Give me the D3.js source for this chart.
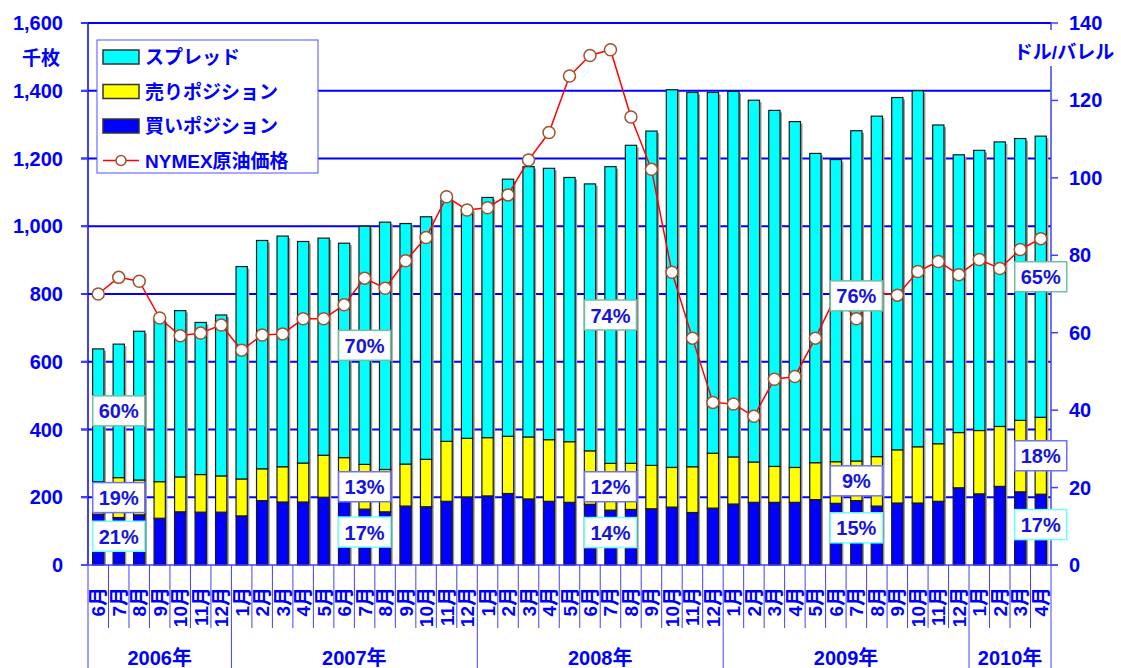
<!DOCTYPE html>
<html>
<head>
<meta charset="utf-8">
<script src="https://cdn.jsdelivr.net/npm/d3@7"></script>
<style>
  body { margin: 0; background: #fff; }
  text { font-family: "Liberation Sans", Arial, "Noto Sans CJK JP", sans-serif; font-weight: bold; fill: #0000ff; }
</style>
</head>
<body>
<div id="chart"></div>
<script>
// months shown on the axis
var months = ["6月","7月","8月","9月","10月","11月","12月",
  "1月","2月","3月","4月","5月","6月","7月","8月","9月","10月","11月","12月",
  "1月","2月","3月","4月","5月","6月","7月","8月","9月","10月","11月","12月",
  "1月","2月","3月","4月","5月","6月","7月","8月","9月","10月","11月","12月",
  "1月","2月","3月","4月"];
var years = ["2006年","2007年","2008年","2009年","2010年"];
var yearCounts = [7, 12, 12, 12, 4];

// positions (千枚)
var buy = [150,140,148,138,157,156,156, 145,190,186,186,200,190,165,157,174,172,188,201,
  204,211,195,188,185,179,162,164,166,171,155,168, 180,185,185,185,193,182,190,174,183,183,188,228,
  210,232,216,209];
var sell = [96,118,103,108,103,111,107, 109,94,104,115,124,127,132,125,124,140,177,173,
  172,169,183,182,179,158,138,136,128,117,135,162, 139,119,106,103,109,123,117,146,157,166,170,163,
  187,177,211,227];
var spread = [392,394,439,477,491,449,475, 627,674,681,654,641,633,703,730,710,716,712,676,
  709,759,798,801,780,788,876,939,987,1115,1105,1065, 1079,1068,1051,1021,913,892,975,1005,1040,1051,941,820,
  827,840,832,830];

// NYMEX crude (ドル/バレル)
var price = [70.0,74.3,73.3,63.8,59.2,59.9,62.0, 55.5,59.4,59.7,63.6,63.6,67.2,74.1,71.5,78.6,84.6,95.1,91.7,
  92.3,95.6,104.6,111.7,126.3,131.6,133.1,115.7,102.2,75.6,58.6,42.0, 41.6,38.4,48.0,48.7,58.6,69.5,63.6,70.4,69.7,75.8,78.4,75.0,
  78.9,76.6,81.5,84.3];

// share labels
var labelIdx = [1, 13, 25, 37, 46];
var pctSpread = ["60%","70%","74%","76%","65%"];
var pctSell = ["19%","13%","12%","9%","18%"];
var pctBuy = ["21%","17%","14%","15%","17%"];

var leftTicks = [0,200,400,600,800,1000,1200,1400,1600];
var rightTicks = [0,20,40,60,80,100,120,140];

(function(){
var W = 1121, H = 668;
var pl = 88, pr = 1051, pt = 23, pb = 565;
var blue = "#0000ff", axisBlue = "#4040ff";

var svg = d3.select("#chart").append("svg")
  .attr("width", W).attr("height", H);

var x = d3.scaleBand().domain(d3.range(months.length))
  .range([pl, pr]).paddingInner(0.45).paddingOuter(0.225);
var y = d3.scaleLinear().domain([0, 1600]).range([pb, pt]);
var y2 = d3.scaleLinear().domain([0, 140]).range([pb, pt]);

var rows = months.map(function(m, i){ return {i:i, buy:buy[i], sell:sell[i], spread:spread[i]}; });
var keys = ["buy","sell","spread"];
var colors = {buy:"#0000ff", sell:"#ffff00", spread:"#00ffff"};
var stacked = d3.stack().keys(keys)(rows);

// gridlines
svg.append("g").selectAll("line")
  .data(leftTicks.filter(function(d){ return d > 0; }))
  .enter().append("line")
  .attr("x1", pl - 7).attr("x2", pr)
  .attr("y1", function(d){ return y(d); }).attr("y2", function(d){ return y(d); })
  .attr("stroke", blue).attr("stroke-width", 2);

// shadows
svg.append("g").selectAll("rect")
  .data(rows).enter().append("rect")
  .attr("x", function(d){ return x(d.i) + 2; })
  .attr("y", function(d){ return y(d.buy + d.sell + d.spread) + 2; })
  .attr("width", x.bandwidth())
  .attr("height", function(d){ return pb - y(d.buy + d.sell + d.spread) - 2; })
  .attr("fill", "#9a9a9a");

// stacked bars
svg.append("g").selectAll("g")
  .data(stacked).enter().append("g")
  .attr("fill", function(s){ return colors[s.key]; })
  .selectAll("rect")
  .data(function(s){ return s; })
  .enter().append("rect")
  .attr("x", function(d, i){ return x(i); })
  .attr("y", function(d){ return y(d[1]); })
  .attr("width", x.bandwidth())
  .attr("height", function(d){ return y(d[0]) - y(d[1]); })
  .attr("stroke", "#1a1a1a").attr("stroke-width", 1.2);

// axis lines
svg.append("line").attr("x1", pl).attr("x2", pl).attr("y1", pt).attr("y2", pb)
  .attr("stroke", blue).attr("stroke-width", 1.5);
svg.append("line").attr("x1", pr).attr("x2", pr).attr("y1", pt).attr("y2", pb)
  .attr("stroke", axisBlue).attr("stroke-width", 1.5);
svg.append("line").attr("x1", pl - 7).attr("x2", pr + 7).attr("y1", pb).attr("y2", pb)
  .attr("stroke", axisBlue).attr("stroke-width", 1.5);

// left axis
var yAxis = svg.append("g");
yAxis.selectAll("line").data(leftTicks).enter().append("line")
  .attr("x1", pl - 7).attr("x2", pl)
  .attr("y1", function(d){ return y(d); }).attr("y2", function(d){ return y(d); })
  .attr("stroke", axisBlue).attr("stroke-width", 1.5);
yAxis.selectAll("text").data(leftTicks).enter().append("text")
  .attr("x", 63).attr("y", function(d){ return y(d) + 7; })
  .attr("text-anchor", "end").style("font-size", "20px")
  .text(function(d){ return d3.format(",")(d); });
svg.append("text").attr("x", 41).attr("y", 65).attr("text-anchor", "middle")
  .style("font-size", "19px").text("千枚");

// right axis
var y2Axis = svg.append("g");
y2Axis.selectAll("line").data(rightTicks).enter().append("line")
  .attr("x1", pr).attr("x2", pr + 7)
  .attr("y1", function(d){ return y2(d); }).attr("y2", function(d){ return y2(d); })
  .attr("stroke", axisBlue).attr("stroke-width", 1.5);
y2Axis.selectAll("text").data(rightTicks).enter().append("text")
  .attr("x", 1069).attr("y", function(d){ return y2(d) + 7; })
  .attr("text-anchor", "start").style("font-size", "20px")
  .text(function(d){ return d; });
svg.append("rect").attr("x", 1010).attr("y", 30).attr("width", 108).attr("height", 36).attr("fill", "#fff");
svg.append("text").attr("x", 1064).attr("y", 59).attr("text-anchor", "middle")
  .style("font-size", "19px").text("ドル/バレル");

// category axis: month separators and labels
var step = x.step();
var bounds = d3.range(months.length + 1);
var yearStarts = [0];
yearCounts.forEach(function(c, i){ yearStarts.push(yearStarts[i] + c); });
svg.append("g").selectAll("line").data(bounds).enter().append("line")
  .attr("x1", function(k){ return pl + k * step; }).attr("x2", function(k){ return pl + k * step; })
  .attr("y1", pb)
  .attr("y2", function(k){ return yearStarts.indexOf(k) >= 0 ? H : 628; })
  .attr("stroke", axisBlue).attr("stroke-width", 1);
svg.append("g").selectAll("text").data(months).enter().append("text")
  .attr("transform", function(d, i){ return "translate(" + (x(i) + x.bandwidth() / 2 + 7) + ",587) rotate(-90)"; })
  .attr("text-anchor", "end").style("font-size", "19px")
  .text(function(d){ return d; });
svg.append("g").selectAll("text").data(years).enter().append("text")
  .attr("x", function(d, i){ return pl + (yearStarts[i] + yearCounts[i] / 2) * step; })
  .attr("y", 665).attr("text-anchor", "middle").style("font-size", "20px")
  .text(function(d){ return d; });

// price line
var line = d3.line().x(function(d, i){ return x(i) + x.bandwidth() / 2; })
  .y(function(d){ return y2(d); });
svg.append("path").datum(price).attr("d", line)
  .attr("fill", "none").attr("stroke", "#ff0000").attr("stroke-width", 1.5);
svg.append("g").selectAll("circle").data(price).enter().append("circle")
  .attr("cx", function(d, i){ return x(i) + x.bandwidth() / 2; })
  .attr("cy", function(d){ return y2(d); })
  .attr("r", 6).attr("fill", "#fff").attr("stroke", "#a0522d").attr("stroke-width", 1.5);

// share labels
function drawLabel(cx, cy, txt, border){
  var g = svg.append("g");
  g.append("rect").attr("x", cx - 26).attr("y", cy - 15).attr("width", 52).attr("height", 30)
    .attr("fill", "#fff").attr("stroke", border).attr("stroke-width", 1.5);
  g.append("text").attr("x", cx).attr("y", cy + 7.5).attr("text-anchor", "middle")
    .style("font-size", "20px").style("fill", "#1414dc").text(txt);
}
labelIdx.forEach(function(i, j){
  var cx = x(i) + x.bandwidth() / 2;
  var b = buy[i], s = sell[i], t = buy[i] + sell[i] + spread[i];
  drawLabel(cx, y((b + s + t) / 2), pctSpread[j], "#70c0a0");
  drawLabel(cx, y(b + s / 2), pctSell[j], "#7070ff");
  drawLabel(cx, y(b / 2) - 5, pctBuy[j], "#70ffff");
});

// legend
var lg = svg.append("g");
lg.append("rect").attr("x", 97).attr("y", 40).attr("width", 221).attr("height", 133)
  .attr("fill", "#fff").attr("stroke", "#5050ff").attr("stroke-width", 1);
var legendItems = [
  {name:"スプレッド", key:"spread"},
  {name:"売りポジション", key:"sell"},
  {name:"買いポジション", key:"buy"},
  {name:"NYMEX原油価格", key:"price"}
];
legendItems.forEach(function(d, i){
  var cy = 57 + i * 34.5;
  if (d.key === "price") {
    lg.append("line").attr("x1", 103).attr("x2", 139).attr("y1", cy).attr("y2", cy)
      .attr("stroke", "#ff0000").attr("stroke-width", 1.5);
    lg.append("circle").attr("cx", 121).attr("cy", cy).attr("r", 5)
      .attr("fill", "#fff").attr("stroke", "#a0522d").attr("stroke-width", 1.5);
  } else {
    lg.append("rect").attr("x", 103).attr("y", cy - 7).attr("width", 36).attr("height", 14)
      .attr("fill", colors[d.key]).attr("stroke", "#333").attr("stroke-width", 1.5);
  }
  lg.append("text").attr("x", 145).attr("y", cy + 7).style("font-size", "19px").text(d.name);
});
})();
</script>
</body>
</html>
